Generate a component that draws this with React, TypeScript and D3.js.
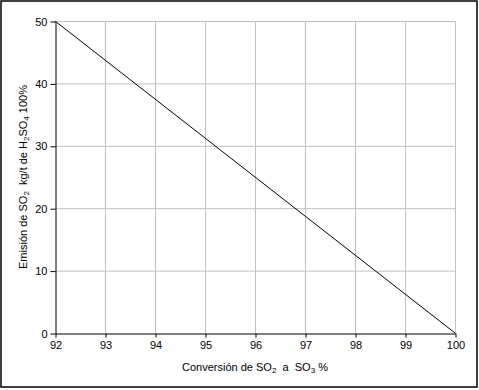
import React, { useRef, useEffect } from 'react'
import * as d3 from 'd3'

const conversion = [92, 93, 94, 95, 96, 97, 98, 99, 100]
const emission = [50, 43.75, 37.5, 31.25, 25, 18.75, 12.5, 6.25, 0]
const xTicks = [92, 93, 94, 95, 96, 97, 98, 99, 100]
const yTicks = [0, 10, 20, 30, 40, 50]

const W = 479
const H = 390
const margin = { left: 55, right: 24, top: 21, bottom: 57 }
const font = '"Liberation Sans", Arial, sans-serif'

export default function App() {
  const ref = useRef<SVGSVGElement>(null)

  useEffect(() => {
    const svg = d3.select(ref.current)
    svg.selectAll('*').remove()

    const width = W - margin.left - margin.right
    const height = H - margin.top - margin.bottom

    svg.append('rect')
      .attr('x', 1).attr('y', 1)
      .attr('width', 476).attr('height', 386)
      .attr('fill', '#fff').attr('stroke', '#000').attr('stroke-width', 1.5)

    const chart = svg.append('g').attr('transform', `translate(${margin.left}, ${margin.top})`)

    const x = d3.scaleLinear().domain([92, 100]).range([0, width])
    const y = d3.scaleLinear().domain([0, 50]).range([height, 0])

    // grid
    chart.append('g')
      .selectAll('line')
      .data(xTicks.slice(1))
      .enter()
      .append('line')
      .attr('x1', d => x(d) + 0.5).attr('x2', d => x(d) + 0.5)
      .attr('y1', 0).attr('y2', height)
      .attr('stroke', '#c0c0c0')
    chart.append('g')
      .selectAll('line')
      .data(yTicks.slice(1))
      .enter()
      .append('line')
      .attr('y1', d => y(d) + 0.5).attr('y2', d => y(d) + 0.5)
      .attr('x1', 0).attr('x2', width)
      .attr('stroke', '#c0c0c0')

    const xAxis = chart.append('g')
      .attr('transform', `translate(0.5, ${height + 0.5})`)
      .call(d3.axisBottom(x).tickValues(xTicks).tickSize(4).tickSizeOuter(0).tickPadding(4))
    const yAxis = chart.append('g')
      .attr('transform', 'translate(0.5, 0.5)')
      .call(d3.axisLeft(y).tickValues(yTicks).tickSize(5).tickSizeOuter(0).tickPadding(3))

    ;[xAxis, yAxis].forEach(a => {
      a.select('.domain').attr('stroke', '#000')
      a.selectAll('line').attr('stroke', '#000')
      a.selectAll('text').attr('font-family', font).attr('font-size', 11).attr('fill', '#000')
    })

    chart.append('path')
      .datum(conversion.map((c, i) => [c, emission[i]] as [number, number]))
      .attr('fill', 'none')
      .attr('stroke', '#000')
      .attr('stroke-width', 1)
      .attr('d', d3.line<[number, number]>().x(d => x(d[0])).y(d => y(d[1])))

    // x title
    const xt = svg.append('text')
      .attr('x', 255).attr('y', 371)
      .attr('text-anchor', 'middle')
      .attr('font-family', font).attr('font-size', 11)
    xt.append('tspan').text('Conversión de SO')
    xt.append('tspan').text('2').attr('font-size', 8).attr('dy', 2)
    xt.append('tspan').text('\u00a0 a\u00a0 SO').attr('dy', -2)
    xt.append('tspan').text('3').attr('font-size', 8).attr('dy', 2)
    xt.append('tspan').text(' %').attr('dy', -2)

    // y title
    const yt = svg.append('text')
      .attr('transform', 'translate(27, 177) rotate(-90)')
      .attr('text-anchor', 'middle')
      .attr('font-family', font).attr('font-size', 11)
    yt.append('tspan').text('Emisión de SO')
    yt.append('tspan').text('2').attr('font-size', 8).attr('dy', 2)
    yt.append('tspan').text('\u00a0 kg/t de H').attr('dy', -2)
    yt.append('tspan').text('2').attr('font-size', 8).attr('dy', 2)
    yt.append('tspan').text('SO').attr('dy', -2)
    yt.append('tspan').text('4').attr('font-size', 8).attr('dy', 2)
    yt.append('tspan').text(' 100%').attr('dy', -2)
  }, [])

  return (
    <svg
      ref={ref}
      width={W}
      height={H}
      style={{ position: 'absolute', left: 0, top: 0 }}
    ></svg>
  )
}
